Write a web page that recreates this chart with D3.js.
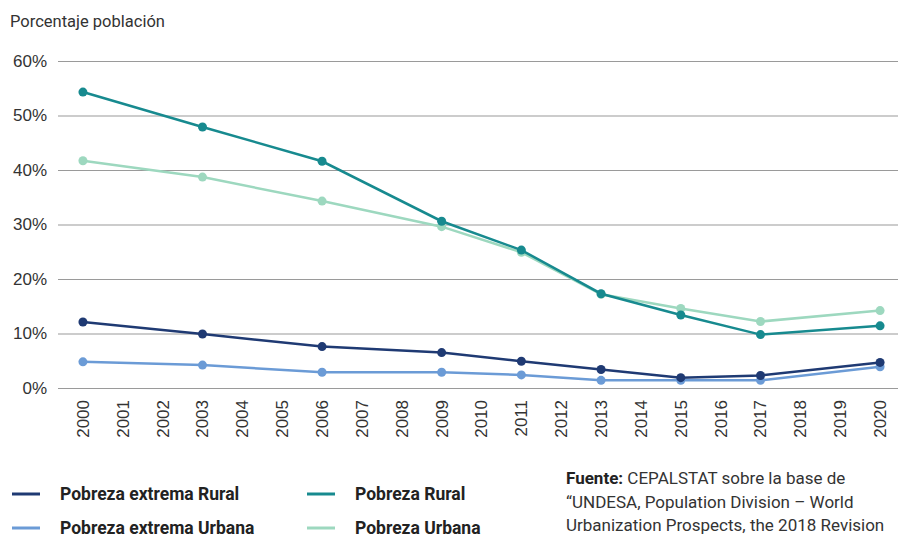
<!DOCTYPE html>
<html>
<head>
<meta charset="utf-8">
<script src="https://cdn.jsdelivr.net/npm/d3@7"></script>
<style>
  body { margin: 0; background: #fff; }
  svg { display: block; }
</style>
</head>
<body>
<script>
// years on the x axis
var years = d3.range(2000, 2021).map(String);
var yTicks = [0, 10, 20, 30, 40, 50, 60];

// survey years with data
var dataYears = ['2000', '2003', '2006', '2009', '2011', '2013', '2015', '2017', '2020'];
var pobrezaRural = [54.3, 47.9, 41.6, 30.6, 25.3, 17.3, 13.4, 9.8, 11.4];
var pobrezaUrbana = [41.7, 38.7, 34.3, 29.6, 24.9, 17.2, 14.6, 12.2, 14.2];
var extremaRural = [12.1, 9.9, 7.6, 6.5, 4.9, 3.4, 1.9, 2.3, 4.7];
var extremaUrbana = [4.8, 4.2, 2.9, 2.9, 2.4, 1.4, 1.4, 1.4, 3.9];

var series = [
  { name: 'Pobreza extrema Urbana', values: extremaUrbana, color: '#6b9bd6' },
  { name: 'Pobreza extrema Rural', values: extremaRural, color: '#1f3a73' },
  { name: 'Pobreza Urbana', values: pobrezaUrbana, color: '#9dd8bf' },
  { name: 'Pobreza Rural', values: pobrezaRural, color: '#178a8f' }
];

var width = 898, height = 537;
var svg = d3.select('body').append('svg')
  .attr('width', width).attr('height', height);

var x = d3.scaleBand().domain(years).range([63, 900]);
var y = d3.scaleLinear().domain([0, 60]).range([388, 61]);

// title
svg.append('text')
  .attr('x', 10).attr('y', 27)
  .style('font-family', 'Roboto, sans-serif')
  .style('font-size', '16.5px')
  .attr('fill', '#333')
  .text('Porcentaje población');

// grid + y labels
var yAxis = d3.axisLeft(y).tickValues(yTicks)
  .tickSize(-(width - 58)).tickFormat(function(d) { return d + '%'; });
var gy = svg.append('g').attr('transform', 'translate(58,0)').call(yAxis);
gy.select('.domain').remove();
gy.selectAll('.tick line').attr('stroke', '#9a9a9a').attr('stroke-width', 1.2);
gy.selectAll('.tick text')
  .attr('x', -11)
  .attr('fill', '#333')
  .style('font-family', 'Liberation Sans, Arial, sans-serif')
  .style('font-size', '17px');

// x labels
var xAxis = d3.axisBottom(x).tickSize(0);
var gx = svg.append('g').attr('transform', 'translate(0,388)').call(xAxis);
gx.select('.domain').remove();
gx.selectAll('.tick text')
  .attr('transform', 'rotate(-90)')
  .attr('x', -12).attr('y', 0).attr('dy', '0.35em')
  .attr('text-anchor', 'end')
  .attr('fill', '#333')
  .style('font-family', 'Liberation Sans, Arial, sans-serif')
  .style('font-size', '17px');

// lines
var line = d3.line()
  .x(function(d, i) { return x(dataYears[i]) + x.bandwidth() / 2; })
  .y(function(d) { return y(d); });

series.forEach(function(s) {
  svg.append('path')
    .attr('d', line(s.values))
    .attr('fill', 'none')
    .attr('stroke', s.color)
    .attr('stroke-width', 2.5);
  svg.selectAll(null).data(s.values).enter().append('circle')
    .attr('cx', function(d, i) { return x(dataYears[i]) + x.bandwidth() / 2; })
    .attr('cy', function(d) { return y(d); })
    .attr('r', 4.5)
    .attr('fill', s.color);
});

// legend
var legend = [
  { name: 'Pobreza extrema Rural', color: '#1f3a73', x: 12, y: 494 },
  { name: 'Pobreza Rural', color: '#178a8f', x: 307, y: 494 },
  { name: 'Pobreza extrema Urbana', color: '#6b9bd6', x: 12, y: 528 },
  { name: 'Pobreza Urbana', color: '#9dd8bf', x: 307, y: 528 }
];
legend.forEach(function(l) {
  svg.append('line')
    .attr('x1', l.x).attr('x2', l.x + 28)
    .attr('y1', l.y).attr('y2', l.y)
    .attr('stroke', l.color).attr('stroke-width', 3);
  svg.append('text')
    .attr('x', l.x + 48).attr('y', l.y + 6)
    .style('font-family', 'Roboto, sans-serif')
    .style('font-size', '17.5px')
    .style('font-weight', 'bold')
    .attr('fill', '#222')
    .text(l.name);
});

// source note
var fuente = svg.append('text')
  .attr('x', 566)
  .style('font-family', 'Roboto, sans-serif')
  .style('font-size', '17px')
  .attr('fill', '#333');
var t1 = fuente.append('tspan').attr('x', 566).attr('y', 484);
t1.append('tspan').style('font-weight', 'bold').attr('fill', '#222').text('Fuente:');
t1.append('tspan').text(' CEPALSTAT sobre la base de');
fuente.append('tspan').attr('x', 566).attr('y', 508)
  .text('\u201cUNDESA, Population Division \u2013 World');
fuente.append('tspan').attr('x', 566).attr('y', 531)
  .text('Urbanization Prospects, the 2018 Revision');
</script>
</body>
</html>
